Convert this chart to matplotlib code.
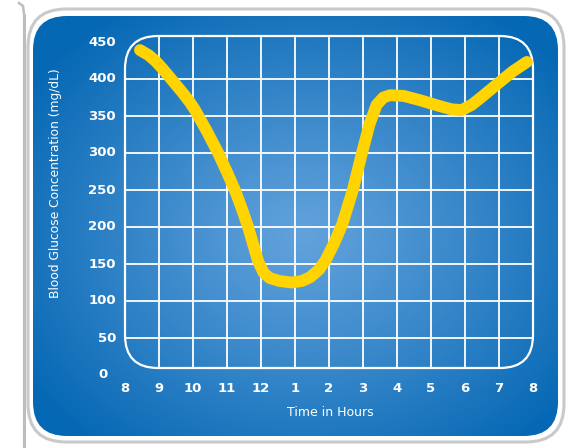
import numpy as np
import matplotlib
matplotlib.use("Agg")
import matplotlib.pyplot as plt
from matplotlib.patches import FancyBboxPatch

# Data (x in hours after 8 o'clock)
hour_labels = ['8', '9', '10', '11', '12', '1', '2', '3', '4', '5', '6', '7', '8']
y_ticks = [0, 50, 100, 150, 200, 250, 300, 350, 400, 450]
hours = [0.44, 0.7, 0.9, 1.1, 1.32, 1.5, 1.7, 1.9, 2.06, 2.4, 2.74, 3.0,
         3.24, 3.45, 3.62, 3.78, 3.92, 4.08, 4.26, 4.55, 4.9, 5.2, 5.44,
         5.7, 5.9, 6.15, 6.4, 6.7, 6.97, 7.2, 7.4, 7.6, 7.8, 8.2, 8.7,
         9.2, 9.6, 9.9, 10.2, 10.5, 11.0, 11.4, 11.82]
glucose = [439, 432, 424, 414, 402, 392, 381, 369, 358, 330, 300, 274,
           249, 223, 200, 175, 153, 138, 131, 127, 125, 127, 132,
           142, 155, 178, 205, 250, 300, 340, 365, 375, 378, 377, 371,
           364, 359, 358, 365, 376, 395, 410, 423]

W, H = 569, 448
fig = plt.figure(figsize=(W / 100, H / 100), dpi=100)
fig.patch.set_facecolor('white')

# Background axes in pixel coordinates
bg = fig.add_axes([0, 0, 1, 1])
bg.set_xlim(0, W)
bg.set_ylim(H, 0)
bg.axis('off')

# page edge line on the left
bg.plot([24, 24], [14, 448], color='#bdbdbd', lw=2.2, solid_capstyle='butt')
bg.plot([24, 23, 19], [14, 6, 3], color='#bdbdbd', lw=1.8)

# outer light frame
outer = FancyBboxPatch((28 + 38, 9 + 38), 536 - 76, 433 - 76,
                       boxstyle='round,pad=38', fc='white', ec='#c9c9c9', lw=2.2)
bg.add_patch(outer)

# blue panel with radial gradient
px0, py0, px1, py1 = 33, 16, 558, 436
panel = FancyBboxPatch((px0 + 34, py0 + 34), (px1 - px0) - 68, (py1 - py0) - 68,
                       boxstyle='round,pad=34', fc='none', ec='none')
bg.add_patch(panel)
xx, yy = np.meshgrid(np.linspace(px0, px1, 300), np.linspace(py0, py1, 250))
r = np.sqrt(((xx - 305) / 330) ** 2 + ((yy - 235) / 270) ** 2)
r = np.clip(r, 0, 1) ** 1.1
c_in = np.array([0x62, 0xa2, 0xdc]) / 255
c_out = np.array([0x06, 0x68, 0xb4]) / 255
img = c_in[None, None, :] + (c_out - c_in)[None, None, :] * r[..., None]
im = bg.imshow(img, extent=(px0, px1, py1, py0), interpolation='bilinear', zorder=2)
im.set_clip_path(panel)

# grid box (rounded)
gx0, gy0, gx1, gy1 = 125, 36, 533, 368
rad = 33
grid_box = FancyBboxPatch((gx0 + rad, gy0 + rad), (gx1 - gx0) - 2 * rad, (gy1 - gy0) - 2 * rad,
                          boxstyle='round,pad=%d' % rad, fc='none', ec='white', lw=1.6, zorder=3)
bg.add_patch(grid_box)

# chart axes aligned to grid box
ax = fig.add_axes([gx0 / W, (H - gy1) / H, (gx1 - gx0) / W, (gy1 - gy0) / H])
ax.patch.set_alpha(0)
ax.set_xlim(0, 12)
ax.set_ylim(9.5, 458)
ax.axis('off')

for x in range(1, 12):
    ln = ax.axvline(x, color='white', lw=1.3, zorder=1)
    ln.set_clip_path(grid_box)
for y in y_ticks[1:-1]:
    ln = ax.axhline(y, color='white', lw=1.3, zorder=1)
    ln.set_clip_path(grid_box)

ax.plot(hours, glucose, color='#ffd400', lw=8.5, solid_capstyle='round',
        solid_joinstyle='round', zorder=5, clip_on=False)

# tick labels
font = dict(color='white', fontsize=9.5, fontweight='bold', family='DejaVu Sans')
for x, lab in enumerate(hour_labels):
    bg.text(gx0 + x * 34, 388, lab, ha='center', va='center', **font)
for v in y_ticks:
    ypix = 375 - v * 0.74
    if v == 0:
        bg.text(103, ypix, str(v), ha='center', va='center', **font)
    else:
        bg.text(116, ypix, str(v), ha='right', va='center', **font)

bg.text(330, 412, 'Time in Hours', color='white', fontsize=9,
        ha='center', va='center')
bg.text(56, 183, 'Blood Glucose Concentration (mg/dL)', color='white',
        fontsize=8.8, rotation=90, ha='center', va='center')

plt.savefig('out.png', dpi=100)
